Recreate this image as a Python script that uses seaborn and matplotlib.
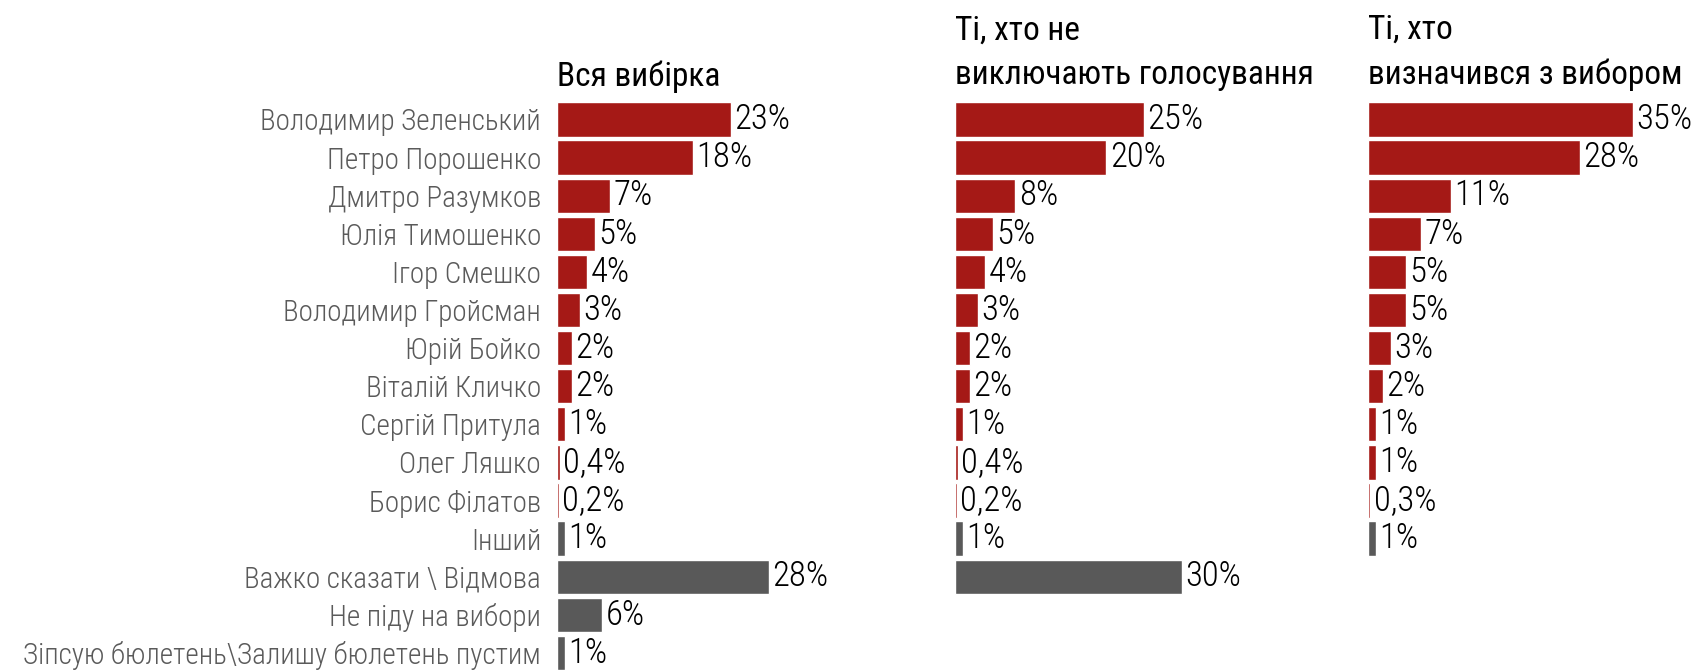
import matplotlib
matplotlib.use("Agg")
import matplotlib.pyplot as plt
import seaborn as sns
import pandas as pd

# ---- data ----
categories = [
    "Володимир Зеленський", "Петро Порошенко", "Дмитро Разумков", "Юлія Тимошенко",
    "Ігор Смешко", "Володимир Гройсман", "Юрій Бойко", "Віталій Кличко",
    "Сергій Притула", "Олег Ляшко", "Борис Філатов", "Інший",
    "Важко сказати \\ Відмова", "Не піду на вибори",
    "Зіпсую бюлетень\\Залишу бюлетень пустим",
]
groups = ["cand"] * 11 + ["other"] * 4

all_sample = [23, 18, 7, 5, 4, 3, 2, 2, 1, 0.4, 0.2, 1, 28, 6, 1]
not_excluding = [25, 20, 8, 5, 4, 3, 2, 2, 1, 0.4, 0.2, 1, 30]
decided = [35, 28, 11, 7, 5, 5, 3, 2, 1, 1, 0.3, 1]

titles = ["Вся вибірка", "Ті, хто не\nвиключають голосування", "Ті, хто\nвизначився з вибором"]

RED = "#a51916"
GRAY = "#595959"
LABEL_GRAY = "#5a5a5a"

sns.set_theme(style="white")
plt.rcParams["font.family"] = ["Roboto Condensed", "Fira Sans Condensed", "DejaVu Sans"]

W, H = 1695, 670
fig = plt.figure(figsize=(W / 100, H / 100), dpi=100)
fig.patch.set_facecolor("white")

px_per_unit = 7.56          # horizontal pixels per percentage point
row_px = 38.1               # vertical pixels per row
top_px = 119.5 - row_px / 2 # top edge of first row
ax_w_px = 320
lefts = [557, 955, 1368]
series = [all_sample, not_excluding, decided]
title_baselines = [86, 84, 84]


def fmt(v):
    s = f"{v:g}".replace(".", ",")
    return s + "%"


for i, (vals, left) in enumerate(zip(series, lefts)):
    n = len(vals)
    df = pd.DataFrame({"cat": categories[:n], "val": vals, "grp": groups[:n]})
    ax_h_px = 15 * row_px
    ax = fig.add_axes([left / W, 1 - (top_px + ax_h_px) / H, ax_w_px / W, ax_h_px / H])
    ax.set_facecolor("none")
    sns.barplot(data=df, x="val", y="cat", hue="grp", order=categories[:n],
                palette={"cand": RED, "other": GRAY}, dodge=False, width=0.9,
                legend=False, saturation=1, ax=ax)
    ax.set_xlim(0, ax_w_px / px_per_unit)
    ax.set_ylim(14.5, -0.5)
    for c in ax.containers:
        ax.bar_label(c, labels=[fmt(v) for v in c.datavalues], padding=2.5,
                     fontsize=25, color="black", fontweight="light")
    ax.set_xlabel("")
    ax.set_ylabel("")
    ax.set_xticks([])
    for s in ax.spines.values():
        s.set_visible(False)
    if i == 0:
        ax.tick_params(axis="y", length=0, pad=11.5, labelsize=21, labelcolor=LABEL_GRAY)
        for t in ax.get_yticklabels():
            t.set_fontweight("light")
    else:
        ax.set_yticks([])
    fig.text(left / W, 1 - title_baselines[i] / H, titles[i], fontsize=24,
             color="black", ha="left", va="baseline", linespacing=1.5)

fig.savefig("out.png", dpi=100, facecolor="white")
